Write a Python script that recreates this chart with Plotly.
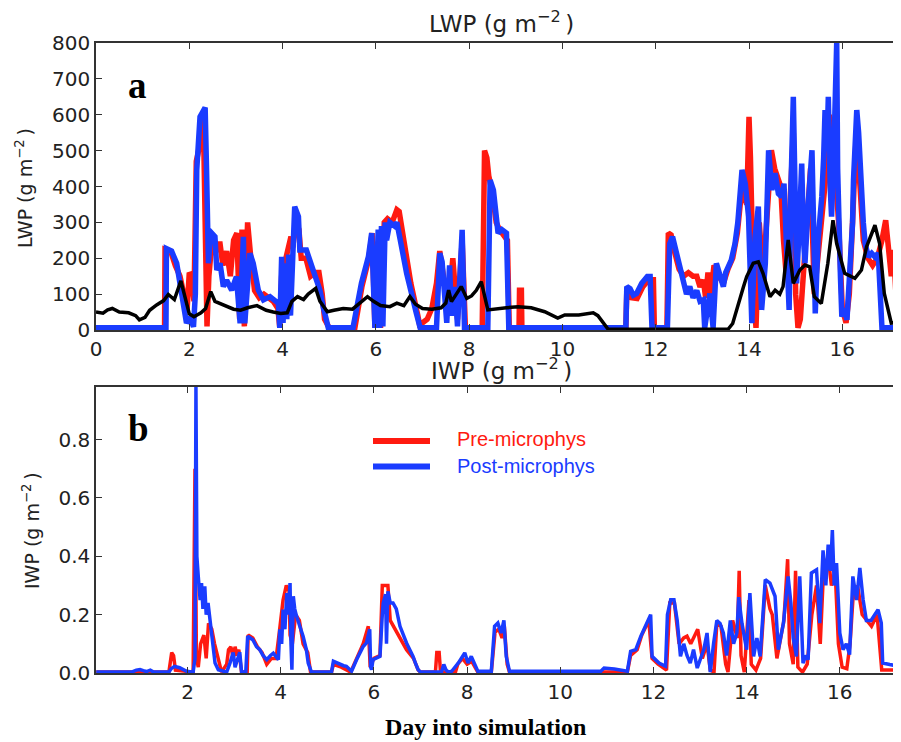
import plotly.graph_objects as go

# ---------------- data ----------------
obs_day = [
    0.00, 0.15, 0.25, 0.35, 0.50, 0.70, 0.85, 0.93,
    1.05, 1.15, 1.30, 1.45, 1.55, 1.68, 1.82, 1.92,
    2.00, 2.10, 2.25, 2.35, 2.46, 2.55, 2.75, 2.95,
    3.10, 3.25, 3.45, 3.65, 3.80, 3.96, 4.10, 4.20,
    4.32, 4.45, 4.55, 4.71, 4.80, 4.96, 5.10, 5.30,
    5.50, 5.65, 5.82, 5.95, 6.10, 6.30, 6.45, 6.60,
    6.73, 6.85, 7.00, 7.20, 7.40, 7.50, 7.56, 7.62,
    7.83, 7.95, 8.05, 8.15, 8.26, 8.40, 8.60, 8.80,
    9.05, 9.33, 9.62, 9.90, 10.05, 10.35, 10.66, 10.76,
    10.98, 13.55, 13.65, 13.73, 13.88, 13.95, 14.09, 14.20,
    14.30, 14.45, 14.56, 14.66, 14.73, 14.84, 14.95, 15.09,
    15.20, 15.30, 15.40, 15.55, 15.69, 15.80, 15.88, 16.05,
    16.27, 16.41, 16.52, 16.70, 16.80, 16.90, 17.05, 17.26]
obs_lwp = [
    50, 47, 56, 60, 50, 48, 40, 28,
    35, 55, 70, 82, 99, 85, 137, 80,
    45, 37, 48, 60, 107, 80, 70, 58,
    55, 62, 68, 55, 50, 46, 48, 80,
    93, 85, 100, 116, 80, 51, 55, 60,
    58, 75, 93, 80, 68, 65, 75, 68,
    93, 72, 60, 58, 62, 75, 111, 79,
    121, 88, 95, 110, 135, 56, 58, 62,
    65, 62, 51, 33, 42, 42, 48, 40,
    2, 2, 18, 56, 120, 149, 186, 190,
    158, 93, 111, 100, 121, 251, 130, 167,
    181, 176, 93, 74, 186, 306, 241, 158,
    144, 167, 232, 292, 241, 102, 19, 20]

post_day = [
    0.00, 1.50, 1.51, 1.62, 1.73, 1.80, 1.87, 1.94,
    2.01, 2.09, 2.13, 2.16, 2.23, 2.30, 2.34, 2.37,
    2.41, 2.45, 2.48, 2.55, 2.59, 2.66, 2.73, 2.80,
    2.91, 3.01, 3.09, 3.16, 3.19, 3.30, 3.37, 3.48,
    3.59, 3.73, 3.91, 3.94, 3.98, 4.01, 4.05, 4.09,
    4.13, 4.17, 4.23, 4.26, 4.34, 4.37, 4.51, 4.66,
    4.80, 4.87, 4.98, 5.51, 5.69, 5.84, 5.91, 5.98,
    6.05, 6.08, 6.12, 6.15, 6.20, 6.23, 6.30, 6.40,
    6.45, 6.52, 6.66, 6.87, 6.95, 7.30, 7.37, 7.42,
    7.48, 7.52, 7.58, 7.62, 7.70, 7.75, 7.85, 7.90,
    8.40, 8.42, 8.45, 8.52, 8.58, 8.62, 8.70, 8.80,
    8.85, 11.36, 11.38, 11.45, 11.52, 11.59, 11.70, 11.82,
    11.88, 11.92, 12.25, 12.30, 12.36, 12.42, 12.52, 12.60,
    12.66, 12.73, 12.80, 12.88, 12.95, 13.02, 13.05, 13.16,
    13.23, 13.30, 13.38, 13.45, 13.50, 13.55, 13.62, 13.70,
    13.76, 13.85, 13.92, 13.99, 14.03, 14.06, 14.13, 14.20,
    14.24, 14.27, 14.35, 14.42, 14.49, 14.56, 14.63, 14.70,
    14.75, 14.81, 14.86, 14.90, 14.95, 15.00, 15.02, 15.08,
    15.13, 15.17, 15.20, 15.27, 15.35, 15.40, 15.42, 15.48,
    15.56, 15.60, 15.63, 15.67, 15.70, 15.74, 15.77, 15.82,
    15.88, 15.90, 15.92, 15.96, 15.99, 16.05, 16.10, 16.17,
    16.22, 16.24, 16.31, 16.35, 16.38, 16.45, 16.49, 16.56,
    16.63, 16.70, 16.77, 16.80, 16.85, 17.18, 17.22, 17.26]
post_lwp = [
    6, 6, 227, 220, 186, 130, 93, 19,
    37, 9, 100, 446, 594, 610, 620, 446,
    186, 260, 270, 260, 167, 186, 121, 139,
    111, 149, 19, 260, 19, 214, 186, 111,
    84, 93, 74, 6, 204, 20, 186, 30,
    210, 40, 223, 344, 316, 223, 223, 167,
    111, 65, 6, 6, 130, 204, 270, 6,
    280, 6, 290, 10, 300, 250, 300, 290,
    300, 253, 158, 46, 6, 6, 214, 190,
    100, 20, 180, 40, 120, 10, 279, 6,
    6, 400, 418, 390, 300, 270, 280, 270,
    6, 6, 121, 115, 97, 102, 130, 149,
    149, 6, 6, 240, 260, 230, 176, 140,
    100, 121, 90, 110, 80, 84, 6, 102,
    6, 186, 150, 121, 160, 176, 195, 241,
    300, 446, 408, 316, 80, 19, 260, 344,
    150, 56, 186, 501, 390, 437, 380, 371,
    408, 200, 56, 400, 650, 300, 130, 300,
    464, 250, 186, 350, 501, 200, 46, 250,
    371, 480, 613, 500, 650, 400, 316, 500,
    800, 450, 279, 150, 37, 60, 28, 167,
    300, 418, 613, 550, 464, 300, 241, 204,
    214, 204, 214, 150, 6, 6, 150, 334]

pre_day = [
    0.00, 1.47, 1.48, 1.60, 1.70, 1.80, 1.90, 1.95,
    2.00, 2.05, 2.10, 2.15, 2.20, 2.25, 2.30, 2.35,
    2.38, 2.42, 2.48, 2.55, 2.60, 2.66, 2.72, 2.80,
    2.88, 2.95, 3.02, 3.08, 3.13, 3.18, 3.25, 3.32,
    3.40, 3.50, 3.60, 3.70, 3.80, 3.90, 3.94, 3.98,
    4.05, 4.12, 4.18, 4.22, 4.28, 4.35, 4.40, 4.50,
    4.60, 4.70, 4.78, 4.85, 4.90, 5.00, 5.55, 5.70,
    5.85, 5.92, 5.98, 6.05, 6.10, 6.18, 6.25, 6.35,
    6.45, 6.50, 6.60, 6.75, 6.90, 6.95, 7.00, 7.10,
    7.20, 7.30, 7.37, 7.45, 7.55, 7.65, 7.75, 7.85,
    7.92, 8.28, 8.30, 8.33, 8.38, 8.42, 8.50, 8.58,
    8.65, 8.72, 8.82, 8.86, 9.07, 9.08, 9.12, 9.13,
    11.36, 11.38, 11.48, 11.60, 11.72, 11.85, 11.95, 11.97,
    12.24, 12.27, 12.33, 12.40, 12.50, 12.60, 12.70, 12.80,
    12.88, 12.95, 13.02, 13.07, 13.12, 13.18, 13.25, 13.35,
    13.45, 13.55, 13.65, 13.75, 13.85, 13.95, 14.00, 14.03,
    14.10, 14.15, 14.22, 14.30, 14.40, 14.48, 14.55, 14.62,
    14.68, 14.74, 14.80, 14.86, 14.95, 15.00, 15.05, 15.10,
    15.18, 15.25, 15.32, 15.40, 15.50, 15.58, 15.66, 15.72,
    15.80, 15.86, 15.92, 16.00, 16.08, 16.15, 16.22, 16.30,
    16.38, 16.45, 16.55, 16.65, 16.75, 16.85, 16.93, 17.00,
    17.05, 17.10, 17.15, 17.20, 17.26]
pre_lwp = [
    6, 6, 225, 220, 180, 150, 90, 50,
    160, 150, 80, 470, 500, 590, 600, 300,
    10, 150, 240, 210, 240, 240, 180, 220,
    150, 250, 270, 30, 280, 10, 300, 200,
    110, 90, 100, 90, 80, 60, 6, 150,
    190, 240, 260, 230, 300, 280, 200, 200,
    150, 160, 160, 100, 30, 6, 6, 120,
    200, 270, 6, 100, 6, 300, 310, 300,
    335, 330, 250, 130, 40, 6, 20, 30,
    60, 130, 220, 150, 60, 200, 30, 250,
    6, 6, 400, 500, 480, 430, 380, 300,
    280, 270, 250, 6, 6, 111, 111, 6,
    6, 110, 90, 88, 120, 140, 140, 6,
    6, 270, 265, 220, 170, 150, 160, 150,
    150, 120, 140, 90, 160, 100, 180, 150,
    130, 170, 200, 270, 400, 350, 594, 483,
    100, 6, 300, 150, 350, 501, 450, 427,
    400, 250, 150, 300, 550, 100, 6, 30,
    200, 300, 450, 100, 241, 350, 446, 600,
    500, 420, 300, 60, 20, 100, 300, 550,
    400, 250, 200, 180, 200, 250, 306, 200,
    150, 223, 100, 60, 30]

ipost_day = [
    0.04, 0.80, 0.90, 0.98, 1.05, 1.12, 1.20, 1.26,
    1.41, 1.60, 1.65, 1.72, 1.83, 1.98, 2.12, 2.16,
    2.18, 2.20, 2.23, 2.27, 2.30, 2.33, 2.37, 2.40,
    2.44, 2.48, 2.52, 2.59, 2.66, 2.84, 2.91, 2.98,
    3.02, 3.08, 3.12, 3.16, 3.25, 3.29, 3.40, 3.48,
    3.55, 3.62, 3.70, 3.78, 3.84, 3.95, 3.98, 4.02,
    4.05, 4.09, 4.13, 4.16, 4.20, 4.22, 4.24, 4.27,
    4.30, 4.34, 4.41, 4.48, 4.55, 4.59, 4.66, 5.09,
    5.13, 5.20, 5.27, 5.35, 5.41, 5.52, 5.63, 5.70,
    5.77, 5.84, 5.91, 5.93, 5.95, 5.98, 6.05, 6.13,
    6.18, 6.20, 6.25, 6.27, 6.30, 6.35, 6.41, 6.48,
    6.56, 6.63, 6.70, 6.77, 6.84, 6.90, 6.95, 7.00,
    7.45, 7.50, 7.55, 7.60, 7.67, 7.81, 7.95, 8.02,
    8.09, 8.23, 8.52, 8.59, 8.66, 8.73, 8.79, 8.84,
    8.91, 10.87, 10.94, 11.16, 11.44, 11.51, 11.62, 11.73,
    11.87, 11.94, 11.97, 12.05, 12.12, 12.26, 12.30, 12.37,
    12.44, 12.51, 12.58, 12.65, 12.72, 12.79, 12.86, 12.94,
    13.01, 13.08, 13.15, 13.22, 13.29, 13.36, 13.43, 13.50,
    13.57, 13.65, 13.72, 13.79, 13.83, 13.90, 14.00, 14.07,
    14.15, 14.22, 14.29, 14.40, 14.50, 14.61, 14.68, 14.74,
    14.79, 14.89, 14.95, 15.00, 15.07, 15.14, 15.21, 15.27,
    15.32, 15.39, 15.50, 15.57, 15.64, 15.70, 15.75, 15.80,
    15.84, 15.88, 15.93, 16.00, 16.07, 16.14, 16.21, 16.28,
    16.36, 16.43, 16.50, 16.57, 16.67, 16.75, 16.82, 16.89,
    16.92, 17.07, 17.28]
ipost_iwp = [
    0.003, 0.003, 0.010, 0.012, 0.008, 0.005, 0.010, 0.004,
    0.003, 0.003, 0.015, 0.023, 0.018, 0.006, 0.003, 0.05,
    0.98, 0.40, 0.331, 0.25, 0.308, 0.22, 0.297, 0.20,
    0.24, 0.18, 0.137, 0.034, 0.011, 0.003, 0.034, 0.07,
    0.02, 0.05, 0.071, 0.003, 0.005, 0.126, 0.114, 0.09,
    0.08, 0.06, 0.046, 0.06, 0.068, 0.046, 0.15, 0.10,
    0.217, 0.15, 0.274, 0.20, 0.308, 0.10, 0.011, 0.263,
    0.22, 0.194, 0.16, 0.126, 0.08, 0.034, 0.003, 0.003,
    0.04, 0.035, 0.029, 0.025, 0.023, 0.006, 0.046, 0.07,
    0.091, 0.103, 0.15, 0.02, 0.011, 0.046, 0.05, 0.057,
    0.20, 0.24, 0.27, 0.10, 0.28, 0.24, 0.24, 0.22,
    0.16, 0.13, 0.103, 0.08, 0.057, 0.03, 0.011, 0.003,
    0.003, 0.029, 0.010, 0.003, 0.006, 0.034, 0.069, 0.034,
    0.057, 0.006, 0.006, 0.16, 0.171, 0.137, 0.18, 0.057,
    0.006, 0.006, 0.017, 0.014, 0.006, 0.074, 0.08, 0.126,
    0.171, 0.20, 0.057, 0.046, 0.034, 0.023, 0.20, 0.251,
    0.251, 0.18, 0.057, 0.10, 0.06, 0.034, 0.08, 0.017,
    0.05, 0.08, 0.137, 0.003, 0.10, 0.18, 0.17, 0.137,
    0.06, 0.18, 0.10, 0.137, 0.26, 0.17, 0.08, 0.274,
    0.057, 0.12, 0.057, 0.32, 0.308, 0.263, 0.08, 0.14,
    0.171, 0.331, 0.24, 0.12, 0.057, 0.331, 0.034, 0.06,
    0.046, 0.343, 0.354, 0.171, 0.42, 0.30, 0.44, 0.35,
    0.49, 0.30, 0.377, 0.137, 0.08, 0.10, 0.063, 0.331,
    0.25, 0.36, 0.251, 0.18, 0.18, 0.20, 0.217, 0.171,
    0.034, 0.029, 0.023]

ipre_day = [
    0.04, 1.60, 1.66, 1.70, 1.74, 2.12, 2.16, 2.19,
    2.23, 2.28, 2.35, 2.40, 2.45, 2.52, 2.58, 2.66,
    2.73, 2.84, 2.88, 2.93, 2.98, 3.02, 3.06, 3.10,
    3.16, 3.28, 3.30, 3.40, 3.50, 3.60, 3.70, 3.80,
    3.90, 3.97, 4.05, 4.12, 4.18, 4.20, 4.25, 4.32,
    4.40, 4.48, 4.58, 4.64, 5.09, 5.13, 5.30, 5.50,
    5.63, 5.77, 5.88, 5.92, 6.00, 6.13, 6.18, 6.30,
    6.35, 6.45, 6.55, 6.70, 6.85, 6.95, 7.00, 7.32,
    7.35, 7.40, 7.43, 7.75, 7.80, 7.90, 8.00, 8.10,
    8.23, 8.52, 8.60, 8.68, 8.75, 8.80, 8.86, 8.91,
    11.44, 11.51, 11.65, 11.75, 11.90, 11.97, 12.10, 12.28,
    12.35, 12.45, 12.55, 12.65, 12.72, 12.80, 12.86, 12.95,
    13.05, 13.15, 13.22, 13.30, 13.36, 13.45, 13.55, 13.60,
    13.70, 13.80, 13.84, 13.88, 13.95, 14.05, 14.10, 14.20,
    14.30, 14.40, 14.50, 14.55, 14.65, 14.80, 14.88, 14.92,
    15.00, 15.05, 15.10, 15.20, 15.30, 15.40, 15.50, 15.58,
    15.65, 15.75, 15.82, 15.90, 15.97, 16.05, 16.15, 16.22,
    16.28, 16.38, 16.48, 16.58, 16.68, 16.80, 16.90, 17.05,
    17.28]
ipre_iwp = [
    0.003, 0.003, 0.07, 0.06, 0.01, 0.003, 0.70, 0.05,
    0.02, 0.10, 0.13, 0.05, 0.17, 0.15, 0.10, 0.05,
    0.003, 0.03, 0.08, 0.09, 0.05, 0.09, 0.06, 0.08,
    0.003, 0.005, 0.13, 0.12, 0.09, 0.07, 0.03, 0.05,
    0.05, 0.14, 0.25, 0.30, 0.28, 0.13, 0.10, 0.20,
    0.18, 0.10, 0.07, 0.003, 0.003, 0.03, 0.02, 0.003,
    0.05, 0.10, 0.16, 0.02, 0.05, 0.06, 0.30, 0.30,
    0.18, 0.15, 0.12, 0.08, 0.05, 0.01, 0.003, 0.003,
    0.07, 0.07, 0.003, 0.003, 0.03, 0.05, 0.03, 0.04,
    0.003, 0.003, 0.14, 0.15, 0.12, 0.16, 0.03, 0.003,
    0.003, 0.06, 0.08, 0.13, 0.18, 0.05, 0.03, 0.01,
    0.24, 0.24, 0.10, 0.12, 0.126, 0.10, 0.12, 0.15,
    0.05, 0.10, 0.01, 0.003, 0.17, 0.16, 0.03, 0.003,
    0.18, 0.12, 0.35, 0.06, 0.003, 0.25, 0.03, 0.01,
    0.05, 0.30, 0.22, 0.20, 0.05, 0.18, 0.39, 0.10,
    0.03, 0.35, 0.02, 0.003, 0.03, 0.20, 0.30, 0.10,
    0.35, 0.40, 0.30, 0.35, 0.10, 0.02, 0.015, 0.10,
    0.25, 0.30, 0.20, 0.18, 0.16, 0.20, 0.01, 0.01,
    0.01]

lwp_ticks = [0, 100, 200, 300, 400, 500, 600, 700, 800]
iwp_ticks = [0.0, 0.2, 0.4, 0.6, 0.8]
day_ticks_top = [0, 2, 4, 6, 8, 10, 12, 14, 16]
day_ticks_bot = [2, 4, 6, 8, 10, 12, 14, 16]

for a, b in [(obs_day, obs_lwp), (post_day, post_lwp), (pre_day, pre_lwp),
             (ipost_day, ipost_iwp), (ipre_day, ipre_iwp)]:
    assert len(a) == len(b), (len(a), len(b))

RED = "#ff1a10"
BLUE = "#1a3cff"
W, H = 901, 742
OFF = 8  # page body margin: figure is drawn 8px right/down in the window


def px(x):
    return (x - OFF) / W


def py(y):
    return 1 - (y - OFF) / H


fig = go.Figure()
fig.add_trace(go.Scatter(x=pre_day, y=pre_lwp, mode="lines", line=dict(color=RED, width=5.5),
                         xaxis="x", yaxis="y", showlegend=False))
fig.add_trace(go.Scatter(x=post_day, y=post_lwp, mode="lines", line=dict(color=BLUE, width=5.5),
                         xaxis="x", yaxis="y", showlegend=False))
fig.add_trace(go.Scatter(x=obs_day, y=obs_lwp, mode="lines", line=dict(color="black", width=3.5),
                         xaxis="x", yaxis="y", showlegend=False))
fig.add_trace(go.Scatter(x=ipre_day, y=ipre_iwp, mode="lines", line=dict(color=RED, width=3.5),
                         xaxis="x2", yaxis="y2", showlegend=False))
fig.add_trace(go.Scatter(x=ipost_day, y=ipost_iwp, mode="lines", line=dict(color=BLUE, width=3.5),
                         xaxis="x2", yaxis="y2", showlegend=False))

tickfont = dict(family="DejaVu Sans", size=20, color="#222")
axis_common = dict(showgrid=False, zeroline=False, showline=True, linecolor="#333",
                   linewidth=1.5, ticks="inside", ticklen=6, tickwidth=1.2,
                   tickcolor="#333", mirror="ticks", tickfont=tickfont, automargin=False)

fig.update_layout(
    width=W, height=H, margin=dict(l=0, r=0, t=0, b=0, autoexpand=False),
    paper_bgcolor="white", plot_bgcolor="white",
    xaxis=dict(axis_common, domain=[px(96), 1], range=[0, 17.43],
               tickvals=day_ticks_top, anchor="y"),
    yaxis=dict(axis_common, domain=[py(330), py(43)], range=[0, 800],
               tickvals=lwp_ticks, anchor="x"),
    xaxis2=dict(axis_common, domain=[px(96), 1], range=[0.035, 17.485],
                tickvals=day_ticks_bot, anchor="y2"),
    yaxis2=dict(axis_common, domain=[py(673), py(387)], range=[0, 0.98],
                tickvals=iwp_ticks, tickformat=".1f", anchor="x2"),
)

ann = []
title_font = dict(family="DejaVu Sans", size=23, color="#222")
ann.append(dict(text="LWP (g m<sup>−2</sup>\u2009)", x=px(501), y=py(22), xref="paper", yref="paper",
                showarrow=False, font=title_font, xanchor="center", yanchor="middle"))
ann.append(dict(text="IWP (g m<sup>−2</sup>\u2009)", x=px(501), y=py(369), xref="paper", yref="paper",
                showarrow=False, font=title_font, xanchor="center", yanchor="middle"))
ylab_font = dict(family="DejaVu Sans", size=19, color="#222")
ann.append(dict(text="LWP (g m<sup>−2</sup>\u2009)", x=px(24), y=py(188), xref="paper", yref="paper",
                showarrow=False, font=ylab_font, textangle=-90, xanchor="center", yanchor="middle"))
ann.append(dict(text="IWP (g m<sup>−2</sup>\u2009)", x=px(31), y=py(531), xref="paper", yref="paper",
                showarrow=False, font=ylab_font, textangle=-90, xanchor="center", yanchor="middle"))
letter_font = dict(family="Liberation Serif", size=37, color="black")
ann.append(dict(text="<b>a</b>", x=px(137), y=py(86), xref="paper", yref="paper",
                showarrow=False, font=letter_font, xanchor="center", yanchor="middle"))
ann.append(dict(text="<b>b</b>", x=px(138), y=py(428), xref="paper", yref="paper",
                showarrow=False, font=letter_font, xanchor="center", yanchor="middle"))
leg_font = 20
ann.append(dict(text="Pre-microphys", x=px(455), y=py(439), xref="paper", yref="paper",
                showarrow=False, font=dict(family="Liberation Sans", size=leg_font, color=RED),
                xanchor="left", yanchor="middle"))
ann.append(dict(text="Post-microphys", x=px(455), y=py(466), xref="paper", yref="paper",
                showarrow=False, font=dict(family="Liberation Sans", size=leg_font, color=BLUE),
                xanchor="left", yanchor="middle"))
ann.append(dict(text="<b>Day into simulation</b>", x=px(485), y=py(727), xref="paper", yref="paper",
                showarrow=False, font=dict(family="Liberation Serif", size=24, color="black"),
                xanchor="center", yanchor="middle"))
fig.update_layout(annotations=ann)

fig.add_shape(type="line", xref="paper", yref="paper", x0=px(373), x1=px(430), y0=py(441), y1=py(441),
              line=dict(color=RED, width=6))
fig.add_shape(type="line", xref="paper", yref="paper", x0=px(373), x1=px(430), y0=py(466.5), y1=py(466.5),
              line=dict(color=BLUE, width=6))

fig.write_html("out.html")
